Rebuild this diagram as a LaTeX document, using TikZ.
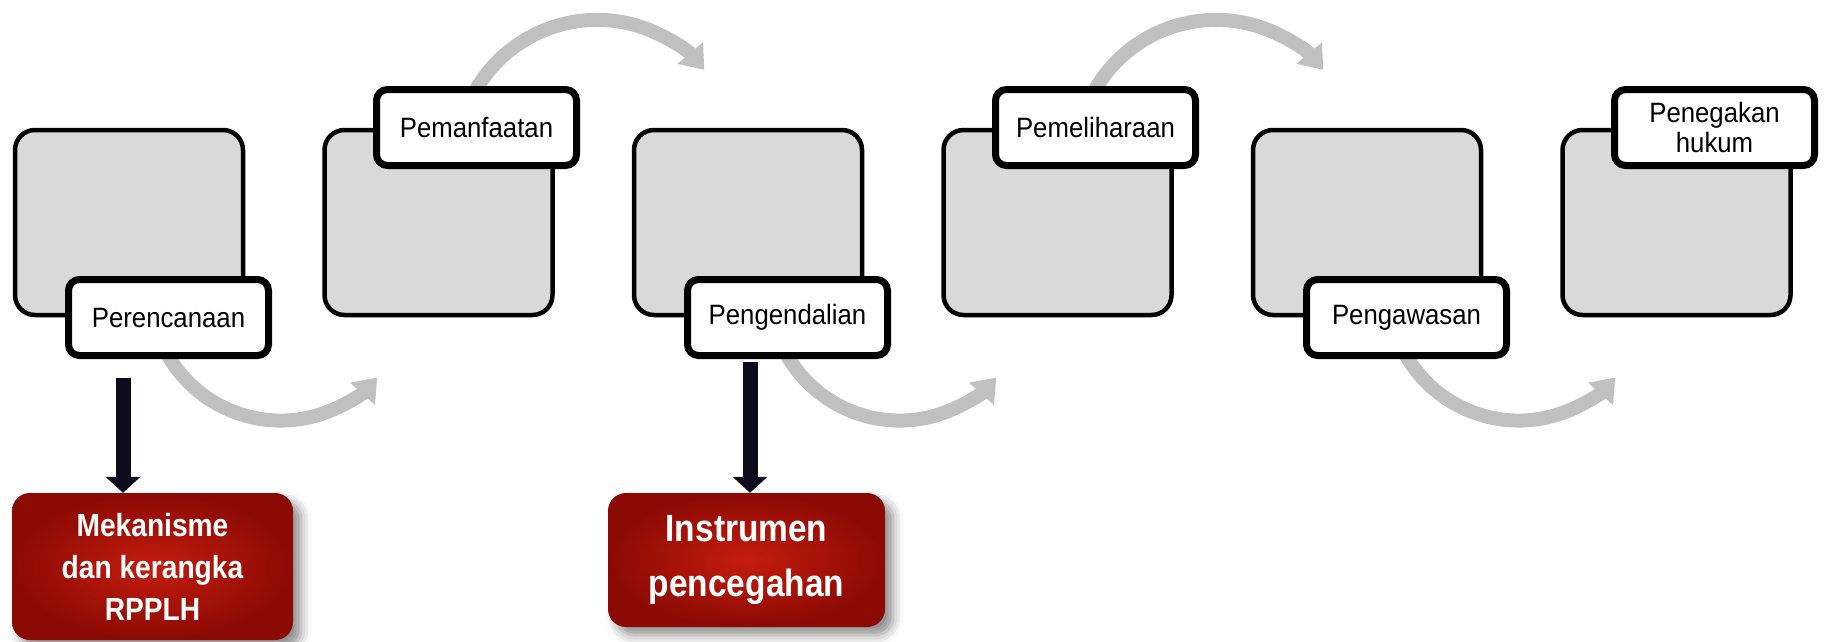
\documentclass[tikz,border=0pt]{standalone}
\usepackage{fontspec}
\setmainfont{Liberation Sans}
\newfontfamily\tagfont[FakeStretch=0.92]{Liberation Sans}
\newfontfamily\outfont[FakeStretch=0.88]{Liberation Sans}
\usetikzlibrary{arrows.meta,calc,shadows.blur}

\definecolor{boxgray}{RGB}{217,217,217}
\definecolor{flowgray}{RGB}{192,192,192}
\definecolor{arrowink}{RGB}{12,12,28}
\definecolor{redin}{RGB}{196,28,14}
\definecolor{redout}{RGB}{140,10,4}

\begin{document}
\begin{tikzpicture}[x=1pt,y=-1pt,
  panel/.style={draw=black, line width=4.5pt, fill=boxgray, rounded corners=20pt,
    minimum width=228pt, minimum height=185pt},
  tag/.style={draw=black, line width=7pt, fill=white, rounded corners=11pt,
    minimum width=200pt, minimum height=76pt, inner sep=0pt, align=center,
    font=\tagfont\fontsize{28}{30}\selectfont},
  flow/.style={draw=flowgray, line width=14pt, -{Triangle[length=22pt,width=32pt]}},
  outcome/.style={rounded corners=18pt, inner color=redin, outer color=redout,
    text=white, align=center, inner sep=0pt,
    blur shadow={shadow xshift=8pt, shadow yshift=-8pt, shadow blur radius=10pt, shadow opacity=45}},
  down/.style={draw=arrowink, line width=15pt, -{Triangle[length=16pt,width=34pt]}}
]
\useasboundingbox (0,0) rectangle (1825,641);

% stage panels
\node[panel] (p1) at (129,222.5) {};
\node[panel] (p2) at (438.5,222.5) {};
\node[panel] (p3) at (748,222.5) {};
\node[panel] (p4) at (1057.5,222.5) {};
\node[panel] (p5) at (1367,222.5) {};
\node[panel] (p6) at (1676.5,222.5) {};

% tags: below for odd stages, above for even stages
\coordinate (c1) at ($(p1.center)+(39.5,95)$);
\coordinate (c2) at ($(p2.center)+(38,-95)$);
\coordinate (c3) at ($(p3.center)+(39.5,95)$);
\coordinate (c4) at ($(p4.center)+(38,-95)$);
\coordinate (c5) at ($(p5.center)+(39.5,95)$);
\coordinate (c6) at ($(p6.center)+(38,-95)$);

% curved flow arrows (behind the tags)
\draw[flow] ($(c1)+(-10,17.5)$) arc[start angle=160, end angle=42, radius=130];
\draw[flow] ($(c2)+(-11,-15.5)$) arc[start angle=200, end angle=320, radius=140];
\draw[flow] ($(c3)+(-10,17.5)$) arc[start angle=160, end angle=42, radius=130];
\draw[flow] ($(c4)+(-11,-15.5)$) arc[start angle=200, end angle=320, radius=140];
\draw[flow] ($(c5)+(-10,17.5)$) arc[start angle=160, end angle=42, radius=130];

\node[tag] (t1) at (c1) {Perencanaan};
\node[tag] (t2) at (c2) {Pemanfaatan};
\node[tag] (t3) at (c3) {Pengendalian};
\node[tag] (t4) at (c4) {Pemeliharaan};
\node[tag] (t5) at (c5) {Pengawasan};
\node[tag] (t6) at (c6) {Penegakan\\hukum};

% outcomes
\node[outcome, minimum width=281pt, minimum height=147pt,
  font=\outfont\bfseries\fontsize{32}{42}\selectfont] (r1) at (152.5,566.5)
  {Mekanisme\\dan kerangka\\RPPLH};
\node[outcome, minimum width=277pt, minimum height=134pt,
  font=\outfont\bfseries\fontsize{38}{55}\selectfont] (r2) at (746.5,560)
  {Instrumen\\pencegahan};

\coordinate (d1) at (123,378);
\coordinate (d2) at (750,362);
\draw[down] (d1) -- (d1 |- r1.north);
\draw[down] (d2) -- (d2 |- r2.north);
\end{tikzpicture}
\end{document}
